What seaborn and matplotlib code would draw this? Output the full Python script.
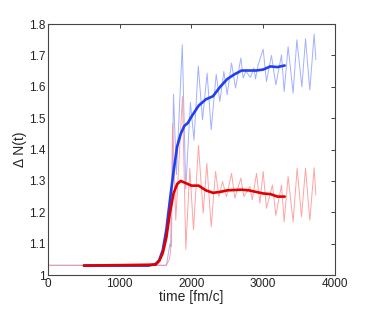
import matplotlib
matplotlib.use("Agg")
import matplotlib.pyplot as plt
import seaborn as sns
import pandas as pd

# thick (smoothed) curves
blue_thick_t = [500, 1400, 1500, 1550, 1600, 1650, 1700, 1750, 1800, 1850, 1900, 1950, 2000, 2100, 2200, 2300,
                2400, 2500, 2600, 2700, 2800, 2900, 3000, 3100, 3200, 3300]
blue_thick_y = [1.03, 1.03, 1.035, 1.047, 1.08, 1.145, 1.24, 1.33, 1.41, 1.45, 1.475, 1.485, 1.505, 1.54,
                1.56, 1.57, 1.60, 1.625, 1.64, 1.652, 1.652, 1.652, 1.655, 1.665, 1.663, 1.668]
red_thick_t = [500, 1500, 1550, 1600, 1650, 1700, 1750, 1800, 1850, 1900, 2000, 2100, 2200, 2300,
               2400, 2500, 2700, 2800, 2900, 3000, 3100, 3200, 3300]
red_thick_y = [1.03, 1.033, 1.045, 1.07, 1.12, 1.20, 1.26, 1.29, 1.30, 1.295, 1.285, 1.285, 1.27, 1.262,
               1.265, 1.27, 1.272, 1.27, 1.265, 1.26, 1.258, 1.25, 1.25]

# thin (raw, oscillating) curves
blue_thin_t = [0, 1650, 1700, 1720, 1749, 1790, 1872, 1920, 1985, 2035, 2095, 2154, 2218, 2275, 2345, 2396,
               2452, 2498, 2559, 2615, 2689, 2721, 2758, 2823, 2870, 2893, 2930, 3000, 3046, 3116, 3177,
               3256, 3293, 3348, 3418, 3470, 3540, 3591, 3651, 3711, 3735]
blue_thin_y = [1.031, 1.031, 1.10, 1.09, 1.577, 1.32, 1.734, 1.275, 1.55, 1.43, 1.666, 1.495, 1.644, 1.463,
               1.64, 1.553, 1.649, 1.575, 1.676, 1.596, 1.692, 1.628, 1.65, 1.63, 1.66, 1.625, 1.67, 1.72,
               1.617, 1.70, 1.606, 1.702, 1.585, 1.728, 1.58, 1.75, 1.60, 1.753, 1.59, 1.768, 1.687]
red_thin_t = [0, 1650, 1690, 1707, 1737, 1781, 1874, 1921, 1977, 2028, 2098, 2163, 2214, 2275, 2336, 2382,
              2433, 2489, 2559, 2605, 2689, 2731, 2814, 2847, 2908, 2954, 3000, 3046, 3130, 3177, 3256,
              3293, 3348, 3418, 3474, 3535, 3591, 3651, 3711, 3735]
red_thin_y = [1.031, 1.031, 1.05, 1.072, 1.484, 1.175, 1.569, 1.082, 1.34, 1.144, 1.413, 1.197, 1.356,
              1.154, 1.33, 1.25, 1.298, 1.25, 1.324, 1.245, 1.309, 1.25, 1.282, 1.24, 1.324, 1.229, 1.33,
              1.213, 1.287, 1.19, 1.287, 1.17, 1.314, 1.17, 1.34, 1.186, 1.34, 1.175, 1.342, 1.255]

x_ticks = [0, 1000, 2000, 3000, 4000]
y_ticks = [1.0, 1.1, 1.2, 1.3, 1.4, 1.5, 1.6, 1.7, 1.8]
y_tick_labels = ["1", "1.1", "1.2", "1.3", "1.4", "1.5", "1.6", "1.7", "1.8"]

sns.set_style("white")
plt.rcParams['font.family'] = ['Liberation Sans', 'DejaVu Sans']

fig = plt.figure(figsize=(3.70, 3.09), dpi=100)
ax = fig.add_axes([0.130, 0.110, 0.775, 0.812])

df_bt = pd.DataFrame({"t": blue_thin_t, "y": blue_thin_y})
df_rt = pd.DataFrame({"t": red_thin_t, "y": red_thin_y})
df_bk = pd.DataFrame({"t": blue_thick_t, "y": blue_thick_y})
df_rk = pd.DataFrame({"t": red_thick_t, "y": red_thick_y})

sns.lineplot(data=df_bt, x="t", y="y", ax=ax, color="#8595ff", lw=0.7, alpha=0.75, estimator=None, sort=False)
sns.lineplot(data=df_rt, x="t", y="y", ax=ax, color="#ff8585", lw=0.7, alpha=0.75, estimator=None, sort=False)
sns.lineplot(data=df_bk, x="t", y="y", ax=ax, color="#2040f0", lw=1.9, estimator=None, sort=False)
sns.lineplot(data=df_rk, x="t", y="y", ax=ax, color="#e00000", lw=1.9, estimator=None, sort=False)

ax.set_xlim(0, 4000)
ax.set_ylim(1.0, 1.8)
ax.set_xticks(x_ticks)
ax.set_xticklabels([str(v) for v in x_ticks])
ax.set_yticks(y_ticks)
ax.set_yticklabels(y_tick_labels)
ax.tick_params(direction="in", length=3, width=0.6, top=True, right=True, labelsize=8.5, colors="#222222",
               pad=2)
for s in ax.spines.values():
    s.set_visible(True)
    s.set_color("#444444")
    s.set_linewidth(0.8)
ax.set_xlabel("time [fm/c]", fontsize=10, labelpad=0)
ax.set_ylabel("\u0394 N(t)", fontsize=10, labelpad=1)

fig.savefig("out.png", dpi=100)
